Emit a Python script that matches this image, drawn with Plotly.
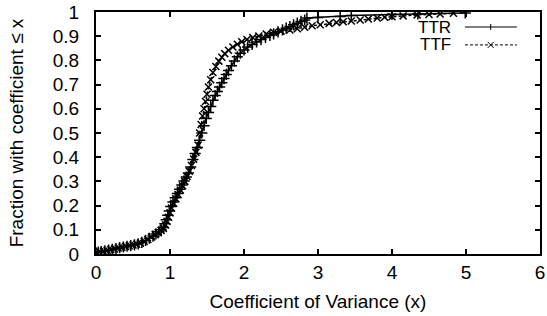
import plotly.graph_objects as go

# TTR (solid, "+") CDF points
ttr_x = [0.00,0.03,0.07,0.12,0.17,0.22,0.27,0.32,0.37,0.42,0.47,0.52,0.57,0.62,0.67,0.72,0.77,0.81,0.85,0.88,
         0.91,0.93,0.95,0.97,0.99,1.01,1.04,1.07,1.10,1.13,1.16,1.19,1.22,1.25,1.28,1.31,1.34,1.37,1.40,1.43,
         1.46,1.49,1.52,1.55,1.58,1.61,1.64,1.67,1.70,1.73,1.76,1.79,1.83,1.87,1.91,1.95,2.00,2.05,2.11,2.17,
         2.23,2.29,2.35,2.40,2.46,2.52,2.57,2.62,2.67,2.72,2.77,2.82,2.85,3.00,3.30,3.45,4.00,4.35,4.99]
ttr_y = [0.005,0.008,0.010,0.013,0.016,0.019,0.022,0.026,0.029,0.032,0.035,0.038,0.042,0.048,0.056,0.065,0.074,0.083,0.092,0.100,
         0.110,0.125,0.142,0.160,0.178,0.196,0.215,0.232,0.250,0.268,0.285,0.302,0.318,0.335,0.360,0.390,0.415,0.440,0.470,0.500,
         0.530,0.560,0.585,0.610,0.635,0.655,0.672,0.690,0.708,0.725,0.742,0.758,0.778,0.798,0.815,0.830,0.843,0.855,0.866,0.876,
         0.886,0.895,0.903,0.910,0.918,0.926,0.933,0.940,0.947,0.954,0.961,0.967,0.975,0.977,0.981,0.986,0.990,0.992,0.996]

# TTF (dashed, "x") CDF points
ttf_x = [0.00,0.05,0.10,0.15,0.20,0.25,0.30,0.35,0.40,0.45,0.50,0.55,0.60,0.65,0.70,0.75,0.80,0.84,0.88,0.91,
         0.94,0.96,0.98,1.00,1.02,1.05,1.08,1.11,1.14,1.17,1.20,1.23,1.26,1.29,1.32,1.35,1.38,1.40,1.42,1.44,
         1.46,1.48,1.50,1.52,1.55,1.58,1.62,1.66,1.70,1.74,1.79,1.85,1.91,1.97,2.04,2.12,2.20,2.30,2.40,2.50,
         2.62,2.72,2.82,2.92,3.03,3.15,3.25,3.34,3.45,3.57,3.68,3.80,3.90,4.00,4.15,4.34,4.50,4.65,4.83]
ttf_y = [0.003,0.009,0.011,0.015,0.018,0.021,0.025,0.028,0.031,0.034,0.037,0.040,0.045,0.052,0.060,0.070,0.080,0.088,0.097,0.106,
         0.120,0.135,0.152,0.170,0.190,0.210,0.228,0.246,0.264,0.282,0.300,0.320,0.342,0.366,0.392,0.420,0.450,0.500,0.535,0.570,
         0.600,0.630,0.660,0.690,0.720,0.750,0.775,0.797,0.813,0.828,0.842,0.855,0.867,0.877,0.886,0.894,0.901,0.909,0.916,0.921,
         0.926,0.931,0.937,0.943,0.947,0.953,0.957,0.960,0.963,0.967,0.971,0.975,0.978,0.980,0.984,0.988,0.990,0.992,0.995]

x_ticks = [0, 1, 2, 3, 4, 5, 6]
y_ticks = [0, 0.1, 0.2, 0.3, 0.4, 0.5, 0.6, 0.7, 0.8, 0.9, 1]
y_tick_text = ["0", "0.1", "0.2", "0.3", "0.4", "0.5", "0.6", "0.7", "0.8", "0.9", "1"]

FONT = "Liberation Sans"
FS = 19
LEG_FS = 17

fig = go.Figure()
fig.add_trace(go.Scatter(
    x=ttr_x, y=ttr_y, mode="lines+markers", name="TTR",
    line=dict(color="black", width=1.5),
    marker=dict(symbol="cross-thin", size=8, line=dict(color="black", width=1.5), color="black"),
    showlegend=False))
fig.add_trace(go.Scatter(
    x=ttf_x, y=ttf_y, mode="lines+markers", name="TTF",
    line=dict(color="black", width=1.5, dash="3px,2px"),
    marker=dict(symbol="x-thin", size=7, line=dict(color="black", width=1.5), color="black"),
    showlegend=False))

axis_common = dict(showline=True, linecolor="black", linewidth=2, mirror="ticks",
                   ticks="inside", ticklen=5, tickcolor="black", tickwidth=1.5,
                   showgrid=False, zeroline=False, automargin=False,
                   ticklabeloverflow="allow",
                   tickfont=dict(family=FONT, size=FS, color="black"))

fig.update_xaxes(range=[0, 6], tickvals=x_ticks, ticktext=[str(v) for v in x_ticks],
                 title=dict(text="Coefficient of Variance (x)", font=dict(family=FONT, size=FS, color="black"), standoff=13),
                 **axis_common)
fig.update_yaxes(range=[0, 1], tickvals=y_ticks, ticktext=y_tick_text,
                 ticklabelstandoff=11,
                 title=dict(text="Fraction with coefficient ≤ x", font=dict(family=FONT, size=FS, color="black"), standoff=24),
                 **axis_common)

# gnuplot-style legend (text then sample)
legend_items = [("TTR", 0.938, "solid", "+"), ("TTF", 0.864, "dash", "x")]
for label, py, dash, sym in legend_items:
    fig.add_annotation(xref="paper", yref="paper", x=0.802, y=py, text=label, showarrow=False,
                       xanchor="right", yanchor="middle", borderpad=0,
                       font=dict(family=FONT, size=LEG_FS, color="black"))
    fig.add_shape(type="line", xref="paper", yref="paper", x0=0.831, x1=0.948, y0=py, y1=py,
                  line=dict(color="black", width=1, dash="solid" if dash == "solid" else "3px,2px"))
    cx = 0.889
    dx = 3 / 444
    dy = 3 / 242
    if sym == "+":
        fig.add_shape(type="line", xref="paper", yref="paper", x0=cx, x1=cx, y0=py - dy, y1=py + dy,
                      line=dict(color="black", width=1))
    else:
        fig.add_shape(type="line", xref="paper", yref="paper", x0=cx - dx, x1=cx + dx, y0=py - dy, y1=py + dy,
                      line=dict(color="black", width=1))
        fig.add_shape(type="line", xref="paper", yref="paper", x0=cx - dx, x1=cx + dx, y0=py + dy, y1=py - dy,
                      line=dict(color="black", width=1))

fig.update_layout(width=547, height=316, margin=dict(l=96, r=7, t=12, b=62),
                  plot_bgcolor="white", paper_bgcolor="white",
                  font=dict(family=FONT, size=FS, color="black"))

# remove the page's default 8px body margin so the figure sits at the window's top-left
fig.write_html("out.html", config={"displayModeBar": False},
               post_script="document.body.style.margin='0';document.body.style.overflow='hidden';")
